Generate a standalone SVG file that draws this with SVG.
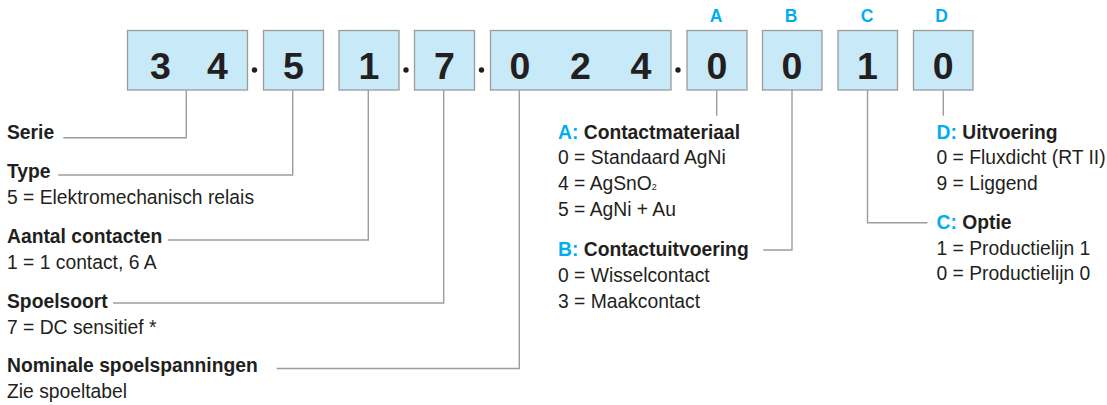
<svg xmlns="http://www.w3.org/2000/svg" width="1107" height="405" viewBox="0 0 1107 405">
<style>
.box{fill:#C8E9F8;stroke:#9B9B9B;stroke-width:1.3}
.dig{font-family:"Liberation Sans",Arial,sans-serif;font-weight:bold;font-size:37.5px;fill:#231F20;text-anchor:middle}
.let{font-family:"Liberation Sans",Arial,sans-serif;font-weight:bold;font-size:17.5px;fill:#00AEEF;text-anchor:middle}
.dot{fill:#231F20}
.t{font-family:"Liberation Sans",Arial,sans-serif;font-size:19.3px;fill:#231F20}
.b{font-weight:bold}
.bl{fill:#00AEEF;font-weight:bold}
.ln{fill:none;stroke:#9D9D9D;stroke-width:1.4}
</style>
<rect width="1107" height="405" fill="#FFFFFF"/>
<g id="code">
<g id="box-34"><rect class="box" x="127.5" y="30.5" width="120" height="59.5"/><text class="dig" x="160.5" y="78.7">3</text><text class="dig" x="217.5" y="78.7">4</text></g>
<circle class="dot" cx="254.5" cy="70" r="2.7"/>
<g id="box-5"><rect class="box" x="263.5" y="30.5" width="60" height="59.5"/><text class="dig" x="293.5" y="78.7">5</text></g>
<g id="box-1"><rect class="box" x="339" y="30.5" width="60" height="59.5"/><text class="dig" x="369" y="78.7">1</text></g>
<circle class="dot" cx="406" cy="70" r="2.7"/>
<g id="box-7"><rect class="box" x="414.5" y="30.5" width="60" height="59.5"/><text class="dig" x="444.5" y="78.7">7</text></g>
<circle class="dot" cx="481.5" cy="70" r="2.7"/>
<g id="box-024"><rect class="box" x="490.5" y="30.5" width="180.5" height="59.5"/><text class="dig" x="520" y="78.7">0</text><text class="dig" x="580.5" y="78.7">2</text><text class="dig" x="641" y="78.7">4</text></g>
<circle class="dot" cx="678" cy="70" r="2.7"/>
<g id="box-A"><rect class="box" x="687" y="30.5" width="60" height="59.5"/><text class="dig" x="717" y="78.7">0</text><text class="let" x="716" y="21.7">A</text></g>
<g id="box-B"><rect class="box" x="762.5" y="30.5" width="59.5" height="59.5"/><text class="dig" x="792" y="78.7">0</text><text class="let" x="791" y="21.7">B</text></g>
<g id="box-C"><rect class="box" x="838" y="30.5" width="59.5" height="59.5"/><text class="dig" x="867.5" y="78.7">1</text><text class="let" x="867" y="21.7">C</text></g>
<g id="box-D"><rect class="box" x="913.5" y="30.5" width="59.5" height="59.5"/><text class="dig" x="943.3" y="78.7">0</text><text class="let" x="941.5" y="21.7">D</text></g>
</g>
<g id="connectors">
<polyline class="ln" points="186.3,90 186.3,137.7 63.3,137.7"/>
<polyline class="ln" points="292.7,90 292.7,175 58.3,175"/>
<polyline class="ln" points="368.3,90 368.3,240 168,240"/>
<polyline class="ln" points="443.7,90 443.7,303 113,303"/>
<polyline class="ln" points="519.3,90 519.3,368.5 276.7,368.5"/>
<polyline class="ln" points="716.7,90 716.7,115.7"/>
<polyline class="ln" points="792,90 792,250 763.3,250"/>
<polyline class="ln" points="867.5,90 867.5,222.7 927.3,222.7"/>
<polyline class="ln" points="943.3,90 943.3,115.7"/>
</g>
<g id="serie"><text class="t b" x="7" y="139">Serie</text></g>
<g id="type"><text class="t b" x="7" y="177.7">Type</text><text class="t" x="7" y="204.2">5 = Elektromechanisch relais</text></g>
<g id="aantal"><text class="t b" x="7" y="242.7">Aantal contacten</text><text class="t" x="7" y="269.2">1 = 1 contact, 6 A</text></g>
<g id="spoelsoort"><text class="t b" x="7" y="307.5">Spoelsoort</text><text class="t" x="7" y="333.5">7 = DC sensitief *</text></g>
<g id="nominale"><text class="t b" x="7" y="371.7">Nominale spoelspanningen</text><text class="t" x="7" y="398.3">Zie spoeltabel</text></g>
<g id="optA"><text class="t b" x="558" y="138.5"><tspan class="bl">A:</tspan> Contactmateriaal</text><text class="t" x="558" y="164.3">0 = Standaard AgNi</text><text class="t" x="558" y="190.3">4 = AgSnO<tspan font-size="9px">2</tspan></text><text class="t" x="558" y="215.9">5 = AgNi + Au</text></g>
<g id="optB"><text class="t b" x="558" y="256.2"><tspan class="bl">B:</tspan> Contactuitvoering</text><text class="t" x="558" y="282.3">0 = Wisselcontact</text><text class="t" x="558" y="308.3">3 = Maakcontact</text></g>
<g id="optD"><text class="t b" x="936.5" y="138.5"><tspan class="bl">D:</tspan> Uitvoering</text><text class="t" x="936.5" y="164.3">0 = Fluxdicht (RT II)</text><text class="t" x="936.5" y="190">9 = Liggend</text></g>
<g id="optC"><text class="t b" x="936.5" y="229.3"><tspan class="bl">C:</tspan> Optie</text><text class="t" x="936.5" y="254.5">1 = Productielijn 1</text><text class="t" x="936.5" y="280">0 = Productielijn 0</text></g>
</svg>
